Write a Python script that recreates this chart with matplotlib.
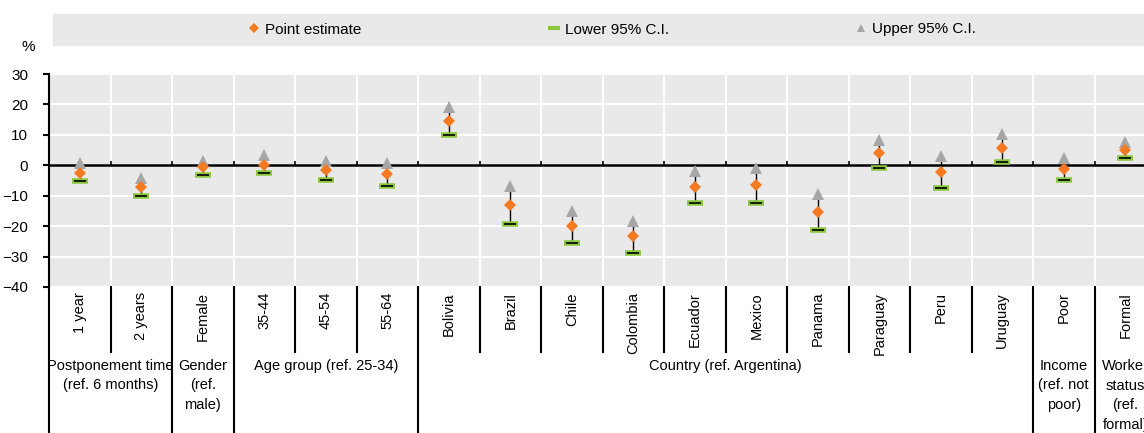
import matplotlib
matplotlib.use("Agg")
import matplotlib.pyplot as plt
from matplotlib.lines import Line2D
from matplotlib.patches import Rectangle
import matplotlib.transforms as mtransforms

plt.rcParams['font.family'] = ['Liberation Sans Narrow', 'Liberation Sans', 'DejaVu Sans']

# data
categories = ['1 year', '2 years', 'Female', '35-44', '45-54', '55-64',
              'Bolivia', 'Brazil', 'Chile', 'Colombia', 'Ecuador', 'Mexico',
              'Panama', 'Paraguay', 'Peru', 'Uruguay', 'Poor', 'Formal']
point = [-2.6, -7.3, -0.7, 0.2, -1.6, -2.9,
         14.4, -12.9, -20.0, -23.4, -7.2, -6.4,
         -15.4, 3.9, -2.2, 5.7, -1.2, 5.0]
lower = [-5.1, -10.1, -3.1, -2.4, -4.9, -6.9,
         9.8, -19.3, -25.4, -28.7, -12.4, -12.4,
         -21.3, -1.0, -7.5, 1.1, -4.7, 2.5]
upper = [0.7, -4.2, 1.5, 3.4, 1.5, 0.7,
         19.1, -6.7, -14.9, -18.3, -1.8, -0.9,
         -9.5, 8.4, 2.9, 10.2, 2.5, 7.8]
# groups: (label, first category index, number of categories)
groups = [('Postponement time\n(ref. 6 months)', 0, 2),
          ('Gender\n(ref.\nmale)', 2, 1),
          ('Age group (ref. 25-34)', 3, 3),
          ('Country (ref. Argentina)', 6, 10),
          ('Income\n(ref. not\npoor)', 16, 1),
          ('Worker\nstatus\n(ref.\nformal)', 17, 1)]
legend_labels = ['Point estimate', 'Lower 95% C.I.', 'Upper 95% C.I.']

W, H = 1144, 433
fig = plt.figure(figsize=(W / 100, H / 100), dpi=100)
ax = fig.add_axes([49 / W, 1 - 287 / H, 1107 / W, 213 / H])

bg = '#e9e9e9'
orange = '#f47920'
grey = '#a6a6a6'
green = '#8cc63f'
fs = 10.5

ax.set_facecolor(bg)
n = len(categories)
x = [i + 0.5 for i in range(n)]
ax.set_xlim(0, n)
ax.set_ylim(-40, 30)
ax.set_yticks(range(-40, 31, 10))
ax.set_xticks(range(0, n + 1))
ax.set_xticklabels([])
ax.tick_params(axis='x', length=0)
ax.tick_params(axis='y', length=4, width=1.5, direction='out', pad=11, labelsize=fs + 0.5)
ax.grid(True, color='white', lw=1.5)
ax.set_axisbelow(True)
for s in ['top', 'right', 'bottom']:
    ax.spines[s].set_visible(False)
ax.spines['left'].set_linewidth(1.5)

ax.axhline(0, color='black', lw=1.8, zorder=2)
ax.vlines(range(1, n), 0, 1.5, color='black', lw=1.2, zorder=2)

ax.vlines(x, lower, upper, color='black', lw=1, zorder=3)
ax.plot(x, lower, ls='none', marker='_', ms=12, mew=4, color=green, zorder=4)
ax.plot(x, lower, ls='none', marker='_', ms=8, mew=1.2, color='black', zorder=5)
ax.plot(x, upper, ls='none', marker='^', ms=9, mew=0, color=grey, zorder=4)
ax.plot(x, point, ls='none', marker='D', ms=6.5, mew=0, color=orange, zorder=6)

# category and group labels below the plot
trans = mtransforms.blended_transform_factory(ax.transData, ax.transAxes)
px = 1 / 213.0
for xi, lab in zip(x, categories):
    ax.text(xi, -5 * px, lab, rotation=90, ha='center', va='top',
            fontsize=fs, transform=trans)
bounds = set()
for lab, start, cnt in groups:
    bounds.add(start)
    bounds.add(start + cnt)
    ax.text(start + cnt / 2, -72 * px, lab, ha='center', va='top',
            fontsize=fs, linespacing=1.5, transform=trans)
for b in range(0, n + 1):
    bottom = -160 * px if b in bounds else -65 * px
    ax.add_line(Line2D([b, b], [0, bottom], color='black', lw=1.5,
                       transform=trans, clip_on=False))

fig.text(28 / W, 1 - 47 / H, '%', ha='center', va='center', fontsize=fs + 0.5)

# legend band
fig.patches.append(Rectangle((53 / W, 1 - 45 / H), 1.0, 31 / H,
                             transform=fig.transFigure, color=bg, zorder=0))
handles = [Line2D([], [], ls='none', marker='D', ms=5, mew=0, color=orange),
           Line2D([], [], ls='none', marker='_', ms=9, mew=3, color=green),
           Line2D([], [], ls='none', marker='^', ms=6, mew=0, color=grey)]
for h, lab, hx in zip(handles, legend_labels, [248, 548, 855]):
    fig.legend([h], [lab], loc='center left', bbox_to_anchor=(hx / W, 1 - 29.5 / H),
               frameon=False, fontsize=fs + 0.5, handlelength=0.8, handletextpad=0.3,
               borderpad=0, borderaxespad=0)

fig.savefig('out.png', dpi=100)
